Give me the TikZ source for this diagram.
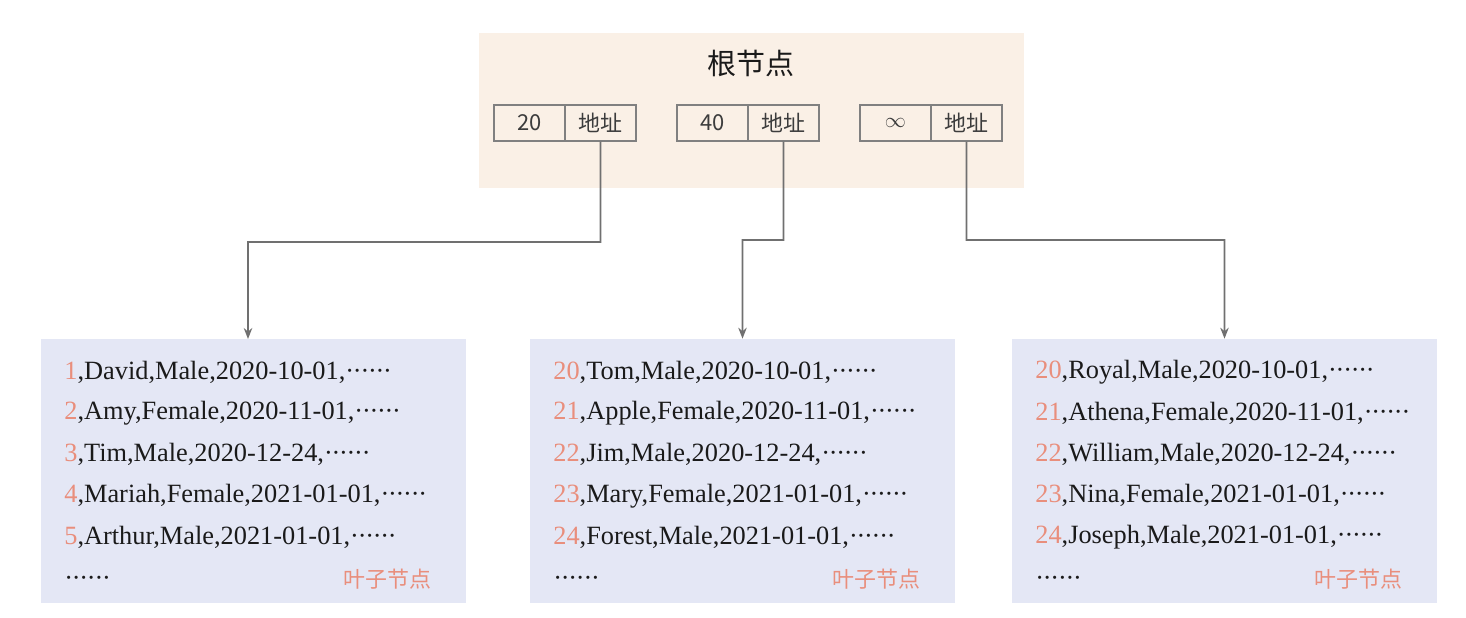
\documentclass[tikz,border=0pt]{standalone}
\usepackage{fontspec}
\setmainfont{Liberation Serif}
\newfontfamily\cjk{Noto Sans CJK SC}
\usetikzlibrary{arrows.meta, positioning}
\definecolor{rootBg}{RGB}{250,240,230}
\definecolor{leafBg}{RGB}{228,231,245}
\definecolor{keySalmon}{RGB}{233,142,124}
\definecolor{cellGray}{RGB}{128,128,128}
\definecolor{linkGray}{RGB}{112,112,112}
\definecolor{inkBlack}{RGB}{26,26,26}
\newcommand{\morecols}{\foreach \d in {1,...,6}{·\kern-0.7pt}}
\tikzset{
  cellbox/.style={draw=cellGray, line width=0.6pt, minimum width=1.42cm, minimum height=0.72cm,
    inner sep=0pt, font=\cjk\fontsize{12.5}{14}\selectfont, text=inkBlack!85},
  leafbox/.style={fill=leafBg, minimum width=8.5cm, minimum height=5.28cm, inner sep=0pt},
  recline/.style={anchor=west, inner sep=0pt, font=\fontsize{15}{18}\selectfont, text=inkBlack},
  leaftag/.style={anchor=east, inner sep=0pt, font=\cjk\fontsize{12.5}{14}\selectfont, text=keySalmon},
  link/.style={draw=linkGray, line width=0.9pt, -{Stealth[length=0.22cm,width=0.17cm]}},
}
\begin{document}
\begin{tikzpicture}[x=0.02cm, y=-0.02cm]
  \useasboundingbox (0,0) rectangle (1466,618);
  % root node
  \node[fill=rootBg, minimum width=10.9cm, minimum height=3.1cm, inner sep=0pt] (root) at (751.5,110.5) {};
  \node[font=\cjk\fontsize{16.5}{20}\selectfont, text=inkBlack] (rootTitle) at (751,63) {根节点};
  \node[cellbox] (k1) at (529.5,123) {20};
  \node[cellbox, right=-0.6pt of k1] (a1) {地址};
  \node[cellbox] (k2) at (712.5,123) {40};
  \node[cellbox, right=-0.6pt of k2] (a2) {地址};
  \node[cellbox] (k3) at (895.5,123) {$\infty$};
  \node[cellbox, right=-0.6pt of k3] (a3) {地址};

  % leaf nodes
  \node[leafbox] (leaf1) at (253.5,471) {};
  \node[leafbox] (leaf2) at (742.5,471) {};
  \node[leafbox] (leaf3) at (1224.5,471) {};

  \foreach \n/\rest [count=\i] in {1/{,David,Male,2020-10-01,}, 2/{,Amy,Female,2020-11-01,},
      3/{,Tim,Male,2020-12-24,}, 4/{,Mariah,Female,2021-01-01,}, 5/{,Arthur,Male,2021-01-01,}}
    \node[recline] (r1-\i) at (64,{372+41.25*(\i-1)}) {\textcolor{keySalmon}{\n}\rest\morecols};
  \foreach \n/\rest [count=\i] in {20/{,Tom,Male,2020-10-01,}, 21/{,Apple,Female,2020-11-01,},
      22/{,Jim,Male,2020-12-24,}, 23/{,Mary,Female,2021-01-01,}, 24/{,Forest,Male,2021-01-01,}}
    \node[recline] (r2-\i) at (553,{372+41.25*(\i-1)}) {\textcolor{keySalmon}{\n}\rest\morecols};
  \foreach \n/\rest [count=\i] in {20/{,Royal,Male,2020-10-01,}, 21/{,Athena,Female,2020-11-01,},
      22/{,William,Male,2020-12-24,}, 23/{,Nina,Female,2021-01-01,}, 24/{,Joseph,Male,2021-01-01,}}
    \node[recline] (r3-\i) at (1035,{372+41.25*(\i-1)}) {\textcolor{keySalmon}{\n}\rest\morecols};

  \node[recline] (more1) at (64,581) {\morecols};
  \node[recline] (more2) at (553,581) {\morecols};
  \node[recline] (more3) at (1035,581) {\morecols};
  \node[leaftag] (tag1) at (432,579) {叶子节点};
  \node[leaftag] (tag2) at (921,579) {叶子节点};
  \node[leaftag] (tag3) at (1403,579) {叶子节点};

  % pointers
  \coordinate (bend1) at (600.5,242);
  \coordinate (bend2) at (783.5,240);
  \coordinate (bend3) at (966.5,240);
  \coordinate (drop1) at (248,339);
  \draw[link] (a1.south) -- (bend1) -| (drop1);
  \draw[link] (a2.south) -- (bend2) -| (leaf2.north);
  \draw[link] (a3.south) -- (bend3) -| (leaf3.north);
\end{tikzpicture}
\end{document}
